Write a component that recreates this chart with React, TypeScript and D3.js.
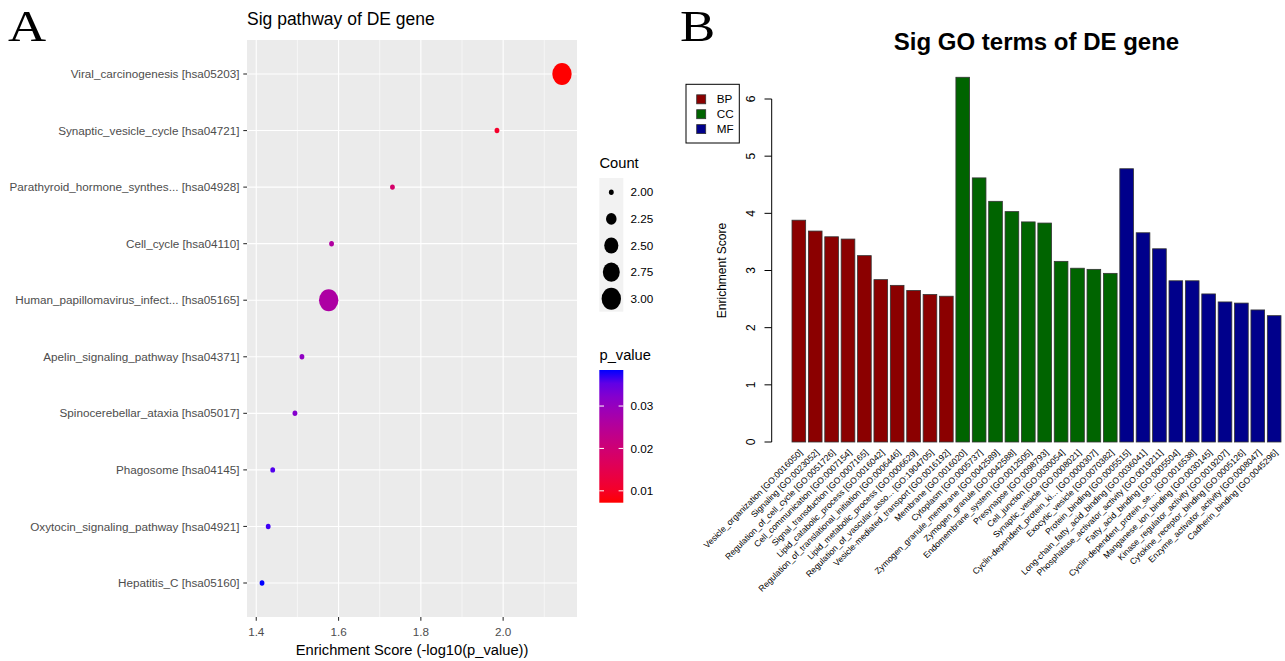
import { scaleLinear, scalePoint, scaleBand, scaleRadial, interpolateLab, range, min, max } from "d3";

// ---- Panel A: KEGG pathway bubble chart ----
const pathways = [
  "Viral_carcinogenesis [hsa05203]",
  "Synaptic_vesicle_cycle [hsa04721]",
  "Parathyroid_hormone_synthes... [hsa04928]",
  "Cell_cycle [hsa04110]",
  "Human_papillomavirus_infect... [hsa05165]",
  "Apelin_signaling_pathway [hsa04371]",
  "Spinocerebellar_ataxia [hsa05017]",
  "Phagosome [hsa04145]",
  "Oxytocin_signaling_pathway [hsa04921]",
  "Hepatitis_C [hsa05160]",
];
const pathScore = [2.143, 1.985, 1.731, 1.583, 1.576, 1.511, 1.494, 1.44, 1.429, 1.414];
const pathCount = [3, 2, 2, 2, 3, 2, 2, 2, 2, 2];
const pathP = [0.0072, 0.0104, 0.0186, 0.0261, 0.0265, 0.0308, 0.0321, 0.0363, 0.0372, 0.0385];
const xTicksA = [1.4, 1.6, 1.8, 2.0];
const xMinorA = [1.5, 1.7, 1.9, 2.1];
const countBreaks = [2, 2.25, 2.5, 2.75, 3];
const pBreaks = [0.01, 0.02, 0.03];

// ---- Panel B: GO terms bar chart ----
const goTerms = [
  "Vesicle_organization [GO:0016050]",
  "Signaling [GO:0023052]",
  "Regulation_of_cell_cycle [GO:0051726]",
  "Cell_communication [GO:0007154]",
  "Signal_transduction [GO:0007165]",
  "Lipid_catabolic_process [GO:0016042]",
  "Regulation_of_translational_initiation [GO:0006446]",
  "Lipid_metabolic_process [GO:0006629]",
  "Regulation_of_vascular_asso... [GO:1904705]",
  "Vesicle-mediated_transport [GO:0016192]",
  "Membrane [GO:0016020]",
  "Cytoplasm [GO:0005737]",
  "Zymogen_granule_membrane [GO:0042589]",
  "Zymogen_granule [GO:0042588]",
  "Endomembrane_system [GO:0012505]",
  "Presynapse [GO:0098793]",
  "Cell_junction [GO:0030054]",
  "Synaptic_vesicle [GO:0008021]",
  "Cyclin-dependent_protein_ki... [GO:0000307]",
  "Exocytic_vesicle [GO:0070382]",
  "Protein_binding [GO:0005515]",
  "Long-chain_fatty_acid_binding [GO:0036041]",
  "Phosphatase_activator_activity [GO:0019211]",
  "Fatty_acid_binding [GO:0005504]",
  "Cyclin-dependent_protein_se... [GO:0016538]",
  "Manganese_ion_binding [GO:0030145]",
  "Kinase_regulator_activity [GO:0019207]",
  "Cytokine_receptor_binding [GO:0005126]",
  "Enzyme_activator_activity [GO:0008047]",
  "Cadherin_binding [GO:0045296]",
];
const goScore = [
  3.88, 3.69, 3.59, 3.55, 3.26, 2.84, 2.74, 2.65, 2.58, 2.55,
  6.38, 4.62, 4.21, 4.03, 3.85, 3.83, 3.16, 3.04, 3.02, 2.95,
  4.78, 3.66, 3.38, 2.82, 2.82, 2.59, 2.45, 2.43, 2.31, 2.21,
];
const goCategory = [
  "BP", "BP", "BP", "BP", "BP", "BP", "BP", "BP", "BP", "BP",
  "CC", "CC", "CC", "CC", "CC", "CC", "CC", "CC", "CC", "CC",
  "MF", "MF", "MF", "MF", "MF", "MF", "MF", "MF", "MF", "MF",
];
const categories = ["BP", "CC", "MF"];
const categoryColors = ["#8B0000", "#006400", "#00008B"];
const yTicksB = [0, 1, 2, 3, 4, 5, 6];

const SANS = "'Liberation Sans', Arial, Helvetica, sans-serif";
const SERIF = "'Liberation Serif', 'Times New Roman', serif";
const STRETCH = 1.13; // panel A was drawn slightly taller than wide

function PanelA() {
  const x = scaleLinear().domain([1.3775, 2.1795]).range([247, 577]);
  const y = scalePoint<string>().domain(pathways).range([74, 583]);
  const pMin = min(pathP) ?? 0;
  const pMax = max(pathP) ?? 1;
  const color = scaleLinear<string>().domain([pMin, pMax]).range(["red", "blue"]).interpolate(interpolateLab);
  const size = scaleRadial().domain([2, 3]).range([2.4, 9.7]);
  const top = 40;
  const bottom = 617;
  const cb = scaleLinear().domain([pMin, pMax]).range([502.7, 370]);
  const legendY = scalePoint<number>().domain(countBreaks).range([192.3, 298.7]);

  return (
    <g fontFamily={SANS}>
      <text x={8} y={41} fontFamily={SERIF} fontSize={44} transform="translate(8,0) scale(1.2,1) translate(-8,0)">
        A
      </text>
      <text x={247} y={25} fontSize={17.5}>
        Sig pathway of DE gene
      </text>

      {/* panel */}
      <rect x={247} y={top} width={330} height={bottom - top} fill="#EBEBEB" />
      {xMinorA.map((v) => (
        <line key={v} x1={x(v)} x2={x(v)} y1={top} y2={bottom} stroke="#fff" strokeWidth={0.55} />
      ))}
      {xTicksA.map((v) => (
        <line key={v} x1={x(v)} x2={x(v)} y1={top} y2={bottom} stroke="#fff" strokeWidth={1.1} />
      ))}
      {pathways.map((p) => (
        <line key={p} x1={247} x2={577} y1={y(p)} y2={y(p)} stroke="#fff" strokeWidth={1.1} />
      ))}

      {/* points */}
      {pathways.map((p, i) => {
        const r = size(pathCount[i]);
        return <ellipse key={p} cx={x(pathScore[i])} cy={y(p)} rx={r} ry={r * STRETCH} fill={color(pathP[i])} />;
      })}

      {/* y axis */}
      {pathways.map((p) => (
        <g key={p}>
          <line x1={243.3} x2={247} y1={y(p)} y2={y(p)} stroke="#333" strokeWidth={1.1} />
          <text x={239.5} y={y(p)} dy="0.35em" textAnchor="end" fontSize={11.7} fill="#4D4D4D">
            {p}
          </text>
        </g>
      ))}

      {/* x axis */}
      {xTicksA.map((v) => (
        <g key={v}>
          <line x1={x(v)} x2={x(v)} y1={bottom} y2={bottom + 3.7} stroke="#333" strokeWidth={1.1} />
          <text x={x(v)} y={636} textAnchor="middle" fontSize={11.7} fill="#4D4D4D">
            {v.toFixed(1)}
          </text>
        </g>
      ))}
      <text x={412} y={655} textAnchor="middle" fontSize={14.7}>
        Enrichment Score (-log10(p_value))
      </text>

      {/* Count legend */}
      <text x={599.5} y={168} fontSize={14.7}>
        Count
      </text>
      <rect x={599.3} y={178} width={24} height={133.7} fill="#F2F2F2" />
      {countBreaks.map((c) => {
        const r = size(c);
        return (
          <g key={c}>
            <ellipse cx={611.3} cy={legendY(c)} rx={r} ry={r * STRETCH} fill="#000" />
            <text x={630.5} y={legendY(c)} dy="0.35em" fontSize={11.7}>
              {c.toFixed(2)}
            </text>
          </g>
        );
      })}

      {/* p_value colourbar */}
      <text x={599.5} y={360} fontSize={14.7}>
        p_value
      </text>
      <defs>
        <linearGradient id="pv-grad" x1="0" x2="0" y1="1" y2="0">
          {range(0, 1.0001, 0.1).map((t) => (
            <stop key={t} offset={`${t * 100}%`} stopColor={color(pMin + t * (pMax - pMin))} />
          ))}
        </linearGradient>
      </defs>
      <rect x={599.3} y={370} width={24} height={132.7} fill="url(#pv-grad)" />
      {pBreaks.map((v) => (
        <g key={v}>
          <line x1={599.3} x2={604} y1={cb(v)} y2={cb(v)} stroke="#fff" strokeWidth={1} />
          <line x1={618.6} x2={623.3} y1={cb(v)} y2={cb(v)} stroke="#fff" strokeWidth={1} />
          <text x={630.5} y={cb(v)} dy="0.35em" fontSize={11.7}>
            {v.toFixed(2)}
          </text>
        </g>
      ))}
    </g>
  );
}

function PanelB() {
  const x = scaleBand<number>()
    .domain(range(goTerms.length))
    .range([792, 1281])
    .paddingInner(1 / 6)
    .paddingOuter(0);
  const y = scaleLinear().domain([0, 6]).range([442, 99]);
  const fillFor = (c: string) => categoryColors[categories.indexOf(c)];
  const axisX = 771.7;

  return (
    <g fontFamily={SANS}>
      <text x={680} y={41} fontFamily={SERIF} fontSize={44} transform="translate(680,0) scale(1.2,1) translate(-680,0)">
        B
      </text>
      <text x={1036.5} y={50} textAnchor="middle" fontSize={24} fontWeight="bold">
        Sig GO terms of DE gene
      </text>

      {/* bars */}
      {goTerms.map((t, i) => (
        <rect
          key={t}
          x={x(i)}
          y={y(goScore[i])}
          width={x.bandwidth()}
          height={y(0) - y(goScore[i])}
          fill={fillFor(goCategory[i])}
          stroke="#333"
          strokeWidth={0.8}
        />
      ))}

      {/* x labels */}
      {goTerms.map((t, i) => {
        const cx = (x(i) ?? 0) + x.bandwidth() / 2;
        return (
          <text
            key={t}
            transform={`translate(${cx + 2},${451}) rotate(-45)`}
            textAnchor="end"
            dy="0.35em"
            fontSize={8.6}
            fill="#000"
          >
            {t}
          </text>
        );
      })}

      {/* y axis */}
      <line x1={axisX} x2={axisX} y1={y(0)} y2={y(6)} stroke="#000" strokeWidth={1} />
      {yTicksB.map((v) => (
        <g key={v}>
          <line x1={axisX - 7.2} x2={axisX} y1={y(v)} y2={y(v)} stroke="#000" strokeWidth={1} />
          <text transform={`translate(755,${y(v)}) rotate(-90)`} textAnchor="middle" fontSize={12}>
            {v}
          </text>
        </g>
      ))}
      <text transform={`translate(726,${(y(0) + y(6)) / 2}) rotate(-90)`} textAnchor="middle" fontSize={12}>
        Enrichment Score
      </text>

      {/* legend */}
      <rect x={686} y={84.3} width={53.3} height={58.7} fill="#fff" stroke="#000" strokeWidth={1} />
      {categories.map((c, i) => {
        const cy = 99.3 + i * 14.9;
        return (
          <g key={c}>
            <rect x={696.7} y={cy - 4.5} width={9} height={9} fill={categoryColors[i]} stroke="#333" strokeWidth={0.8} />
            <text x={716.7} y={cy} dy="0.35em" fontSize={11.7}>
              {c}
            </text>
          </g>
        );
      })}
    </g>
  );
}

export default function App() {
  return (
    <svg
      width={1285}
      height={661}
      style={{ position: "absolute", left: 0, top: 0, background: "#fff" }}
    >
      <rect width={1285} height={661} fill="#fff" />
      <PanelA />
      <PanelB />
    </svg>
  );
}
